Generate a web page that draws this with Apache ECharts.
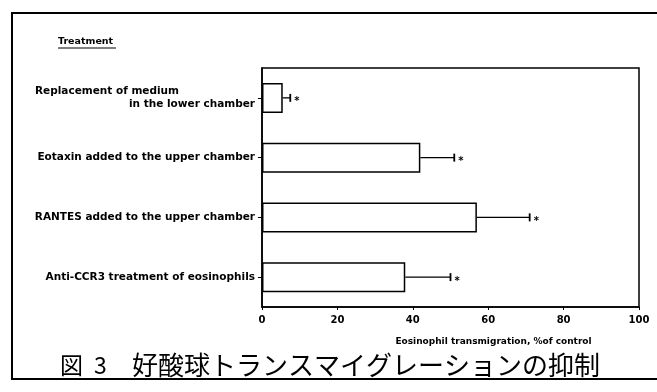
<!DOCTYPE html>
<html>
<head>
<meta charset="utf-8">
<script src="https://cdn.jsdelivr.net/npm/echarts@6/dist/echarts.min.js"></script>
<style>html,body{margin:0;padding:0;background:#fff;}#c{width:657px;height:392px;}</style>
</head>
<body>
<div id="c"></div>
<script>
const categories = [
  "Replacement of medium\nin the lower chamber",
  "Eotaxin added to the upper chamber",
  "RANTES added to the upper chamber",
  "Anti-CCR3 treatment of eosinophils"
];
const meanValues = [5.5, 42, 57, 38];
const errorTops = [7.5, 51, 71, 50];
const xTicks = [0, 20, 40, 60, 80, 100];

const chart = echarts.init(document.getElementById('c'), null, {renderer: 'canvas'});
const font = '"DejaVu Sans", sans-serif';
const lblSize = 10.5;

chart.setOption({
  animation: false,
  backgroundColor: '#fff',
  grid: {left: 262, right: 18, top: 68, bottom: 85, show: true, borderColor: '#000', borderWidth: 1.5, backgroundColor: 'transparent'},
  xAxis: {
    type: 'value', min: 0, max: 100, interval: 20,
    axisLine: {show: true, lineStyle: {color: '#000', width: 1.5}},
    axisTick: {show: true, length: 3, lineStyle: {color: '#000'}},
    splitLine: {show: false},
    axisLabel: {color: '#000', fontFamily: font, fontWeight: 'bold', fontSize: 10, margin: 8,
      formatter: v => xTicks.includes(v) ? String(v) : ''},
    name: 'Eosinophil transmigration, %of control',
    nameLocation: 'middle', nameGap: 30,
    nameTextStyle: {color: '#000', fontFamily: font, fontWeight: 'bold', fontSize: 9, padding: [0, 0, 0, 86]}
  },
  yAxis: {
    type: 'category', data: categories, inverse: true,
    axisLine: {show: true, lineStyle: {color: '#000', width: 1.5}},
    axisTick: {show: true, alignWithLabel: true, length: 4, lineStyle: {color: '#000'}, interval: 0},
    axisLabel: {
      color: '#000', fontFamily: font, fontWeight: 'bold', fontSize: lblSize, margin: 7, interval: 0,
      formatter: v => {
        const parts = v.split('\n');
        if (parts.length > 1) return '{a|' + parts[0] + '}\n{b|' + parts[1] + '}';
        return '{b|' + v + '}';
      },
      rich: {
        a: {fontFamily: font, fontWeight: 'bold', fontSize: lblSize, color: '#000', padding: [0, 76, 0, 0], lineHeight: 13},
        b: {fontFamily: font, fontWeight: 'bold', fontSize: lblSize, color: '#000', lineHeight: 13}
      }
    }
  },
  series: [
    {
      type: 'bar', data: meanValues, barWidth: 30,
      itemStyle: {color: '#fff', borderColor: '#000', borderWidth: 1.5},
      z: 2
    },
    {
      type: 'custom',
      data: meanValues.map((m, i) => [i, m, errorTops[i]]),
      encode: {x: [1, 2], y: 0},
      renderItem: (params, api) => {
        const idx = api.value(0);
        const p0 = api.coord([api.value(1), idx]);
        const p1 = api.coord([api.value(2), idx]);
        return {
          type: 'group',
          children: [
            {type: 'line', shape: {x1: p0[0], y1: p0[1], x2: p1[0], y2: p1[1]}, style: {stroke: '#000', lineWidth: 1.3}},
            {type: 'line', shape: {x1: p1[0], y1: p1[1] - 4, x2: p1[0], y2: p1[1] + 4}, style: {stroke: '#000', lineWidth: 1.8}},
            {type: 'text', style: {text: '*', x: p1[0] + 4, y: p1[1] + 4, fill: '#000', font: 'bold 10px ' + font, textVerticalAlign: 'middle'}}
          ]
        };
      },
      z: 3
    }
  ],
  graphic: [
    {type: 'rect', shape: {x: 12, y: 13, width: 660, height: 366}, style: {fill: 'none', stroke: '#000', lineWidth: 2}, silent: true},
    {type: 'text', left: 58, top: 37, style: {text: 'Treatment', fill: '#000', font: 'bold 9.5px ' + font}},
    {type: 'line', shape: {x1: 58, y1: 48, x2: 116, y2: 48}, style: {stroke: '#000', lineWidth: 1}},
    {type: 'text', left: 60, top: 354, style: {text: '図', fill: '#000', font: '23px "Noto Sans CJK JP", sans-serif'}},
    {type: 'text', left: 94, top: 354, style: {text: '3', fill: '#000', font: '23px "Noto Sans CJK JP", sans-serif'}},
    {type: 'text', left: 132, top: 352, style: {text: '好酸球トランスマイグレーションの抑制', fill: '#000', font: '26px "Noto Sans CJK JP", sans-serif'}}
  ]
});
</script>
</body>
</html>
